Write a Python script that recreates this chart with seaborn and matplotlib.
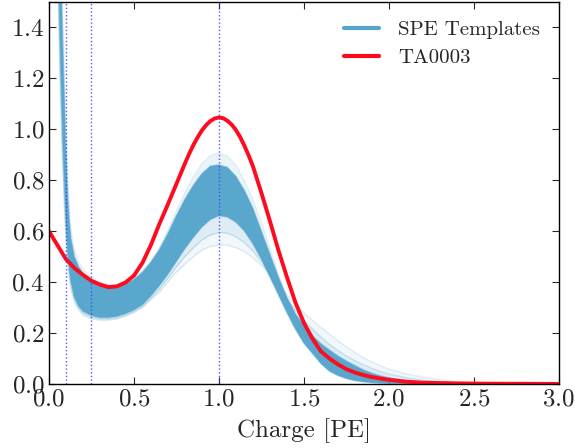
"""SPE template band vs the TA0003 single-photoelectron spectrum."""
import matplotlib
matplotlib.use("Agg")
import matplotlib.pyplot as plt
import numpy as np
import pandas as pd
import seaborn as sns

# ----------------------------------------------------------------------
# data
# ----------------------------------------------------------------------
RED_X = [0.00, 0.05, 0.10, 0.15, 0.20, 0.25, 0.30, 0.35, 0.40, 0.45,
         0.50, 0.55, 0.60, 0.65, 0.70, 0.75, 0.80, 0.825, 0.85, 0.875,
         0.90, 0.925, 0.95, 0.975, 1.00, 1.025, 1.05, 1.075, 1.10, 1.125,
         1.15, 1.175, 1.20, 1.25, 1.30, 1.35, 1.40, 1.45,
         1.50, 1.55, 1.60, 1.65, 1.70, 1.75, 1.80, 1.85, 1.90, 1.95,
         2.00, 2.10, 2.20, 2.40, 2.60, 3.00]
RED_Y = [0.600, 0.545, 0.490, 0.455, 0.428, 0.405, 0.390, 0.380, 0.383, 0.398,
         0.425, 0.475, 0.545, 0.628, 0.705, 0.785, 0.865, 0.903, 0.938, 0.968,
         0.995, 1.016, 1.032, 1.042, 1.046, 1.043, 1.033, 1.018, 0.997, 0.969,
         0.935, 0.897, 0.855, 0.750, 0.640, 0.525, 0.420, 0.320,
         0.240, 0.178, 0.128, 0.100, 0.077, 0.058, 0.045, 0.035, 0.027, 0.021,
         0.016, 0.009, 0.005, 0.002, 0.001, 0.000]

TPL_X = [0.05, 0.06, 0.07, 0.08, 0.09, 0.10, 0.11, 0.12, 0.13, 0.15,
         0.175, 0.20, 0.25, 0.30, 0.35, 0.40, 0.45, 0.50, 0.55, 0.60,
         0.65, 0.70, 0.75, 0.80, 0.85, 0.90, 0.95, 1.00, 1.05, 1.10,
         1.15, 1.20, 1.25, 1.30, 1.35, 1.40, 1.45, 1.50, 1.55, 1.60,
         1.65, 1.70, 1.75, 1.80, 1.85, 1.90, 1.95, 2.00, 2.10, 2.20,
         2.30, 2.40, 2.50, 2.75, 3.00]
# lower / upper edge of the dense bulk of templates
TPL_LO = [1.90, 1.50, 1.22, 0.98, 0.80, 0.64, 0.53, 0.45, 0.40, 0.34,
          0.305, 0.285, 0.268, 0.260, 0.260, 0.265, 0.275, 0.290, 0.310, 0.345,
          0.385, 0.430, 0.480, 0.530, 0.575, 0.615, 0.645, 0.660, 0.655, 0.635,
          0.600, 0.550, 0.490, 0.420, 0.350, 0.280, 0.215, 0.160, 0.120, 0.080,
          0.050, 0.033, 0.021, 0.013, 0.008, 0.005, 0.003, 0.002, 0.001, 0.0,
          0.0, 0.0, 0.0, 0.0, 0.0]
TPL_HI = [2.60, 2.00, 1.65, 1.38, 1.15, 0.92, 0.75, 0.64, 0.57, 0.50,
          0.46, 0.435, 0.410, 0.395, 0.385, 0.385, 0.392, 0.410, 0.438, 0.478,
          0.527, 0.590, 0.660, 0.725, 0.780, 0.825, 0.855, 0.860, 0.850, 0.815,
          0.760, 0.690, 0.600, 0.510, 0.420, 0.340, 0.275, 0.230, 0.190, 0.158,
          0.133, 0.110, 0.090, 0.072, 0.055, 0.042, 0.032, 0.024, 0.013, 0.007,
          0.004, 0.002, 0.001, 0.0, 0.0]
# faint outliers: broad low-peaked templates and a tall narrow one
TPL_WIDE = [1.70, 1.35, 1.08, 0.87, 0.70, 0.57, 0.48, 0.41, 0.37, 0.32,
            0.29, 0.27, 0.255, 0.250, 0.250, 0.255, 0.265, 0.280, 0.300, 0.330,
            0.360, 0.400, 0.440, 0.470, 0.500, 0.525, 0.540, 0.545, 0.545, 0.535,
            0.520, 0.495, 0.465, 0.430, 0.390, 0.350, 0.315, 0.280, 0.250, 0.222,
            0.196, 0.170, 0.146, 0.123, 0.103, 0.086, 0.071, 0.058, 0.040, 0.027,
            0.017, 0.010, 0.006, 0.001, 0.0]
TPL_WIDE2 = [1.80, 1.42, 1.15, 0.92, 0.75, 0.60, 0.50, 0.43, 0.385, 0.33,
             0.297, 0.277, 0.262, 0.255, 0.255, 0.260, 0.270, 0.285, 0.305, 0.337,
             0.372, 0.415, 0.460, 0.500, 0.535, 0.565, 0.585, 0.595, 0.592, 0.578,
             0.555, 0.522, 0.480, 0.432, 0.382, 0.333, 0.290, 0.250, 0.215, 0.184,
             0.156, 0.132, 0.110, 0.091, 0.075, 0.061, 0.049, 0.039, 0.025, 0.015,
             0.009, 0.005, 0.003, 0.0, 0.0]
TPL_TALL = [2.80, 2.20, 1.80, 1.50, 1.25, 1.02, 0.84, 0.70, 0.61, 0.53,
            0.48, 0.45, 0.420, 0.400, 0.390, 0.390, 0.395, 0.415, 0.445, 0.480,
            0.535, 0.605, 0.680, 0.750, 0.815, 0.865, 0.897, 0.907, 0.895, 0.860,
            0.800, 0.725, 0.635, 0.535, 0.430, 0.330, 0.260, 0.205, 0.160, 0.125,
            0.095, 0.070, 0.050, 0.036, 0.025, 0.017, 0.011, 0.007, 0.003, 0.001,
            0.0, 0.0, 0.0, 0.0, 0.0]

VLINES = [0.1, 0.25, 1.0]

BLUE = "#55a4cc"
RED = "#ff0a1e"

sns.set_style("ticks")
plt.rcParams["font.family"] = ["cmr10", "DejaVu Serif"]
plt.rcParams["axes.formatter.use_mathtext"] = True
plt.rcParams["mathtext.fontset"] = "cm"
plt.rcParams["font.size"] = 18
plt.rcParams["xtick.direction"] = "in"
plt.rcParams["ytick.direction"] = "in"
plt.rcParams["xtick.top"] = True
plt.rcParams["ytick.right"] = True

tpl = pd.DataFrame({"x": TPL_X, "lo": TPL_LO, "hi": TPL_HI, "wide": TPL_WIDE,
                    "wide2": TPL_WIDE2, "tall": TPL_TALL})
red = pd.DataFrame({"x": RED_X, "y": RED_Y})

fig = plt.figure(figsize=(5.75, 4.48), dpi=100)
ax = fig.add_axes([0.085, 0.143, 0.887, 0.853])

x = tpl["x"].values
lo, hi = tpl["lo"].values, tpl["hi"].values
# faint halo of outlying templates, two layers for a soft fade
for col, a in (("wide", 0.08), ("wide2", 0.12)):
    w = tpl[col].values
    ax.fill_between(x, w, lo, where=w < lo, interpolate=True,
                    color=BLUE, alpha=a, lw=0)
    ax.fill_between(x, hi, w, where=w > hi, interpolate=True,
                    color=BLUE, alpha=a, lw=0)
tall = tpl["tall"].values
ax.fill_between(x, hi, tall, where=tall > hi, interpolate=True,
                color=BLUE, alpha=0.12, lw=0)
# dense bulk
ax.fill_between(x, lo, hi, color=BLUE, alpha=0.97, lw=0)
sns.lineplot(data=tpl, x="x", y="wide", ax=ax, color=BLUE, alpha=0.18, lw=1)
sns.lineplot(data=tpl, x="x", y="wide2", ax=ax, color=BLUE, alpha=0.25, lw=1)
sns.lineplot(data=tpl, x="x", y="tall", ax=ax, color=BLUE, alpha=0.12, lw=1)
sns.lineplot(data=tpl, x="x", y="lo", ax=ax, color=BLUE, alpha=0.5, lw=1)
sns.lineplot(data=tpl, x="x", y="hi", ax=ax, color=BLUE, alpha=0.5, lw=1)

sns.lineplot(data=red, x="x", y="y", ax=ax, color=RED, lw=2.8)

for v in VLINES:
    ax.axvline(v, color="#3a3aff", ls=":", lw=1, alpha=0.85)

ax.plot([], [], color=BLUE, lw=3, label="SPE Templates")
ax.plot([], [], color=RED, lw=3, label="TA0003")
ax.legend(loc="upper right", frameon=False, handlelength=1.7,
          handletextpad=0.9, labelspacing=0.45, fontsize=15)

ax.set_xlim(0, 3)
ax.set_ylim(0, 1.5)
ax.set_xticks(np.arange(0, 3.01, 0.5))
ax.set_yticks(np.arange(0, 1.41, 0.2))
ax.set_xlabel("Charge [PE]", labelpad=6)
ax.set_ylabel("")
ax.tick_params(length=5, width=0.8, pad=3)
for s in ax.spines.values():
    s.set_linewidth(1.0)
    s.set_color("black")

fig.savefig("out.png", dpi=100)
